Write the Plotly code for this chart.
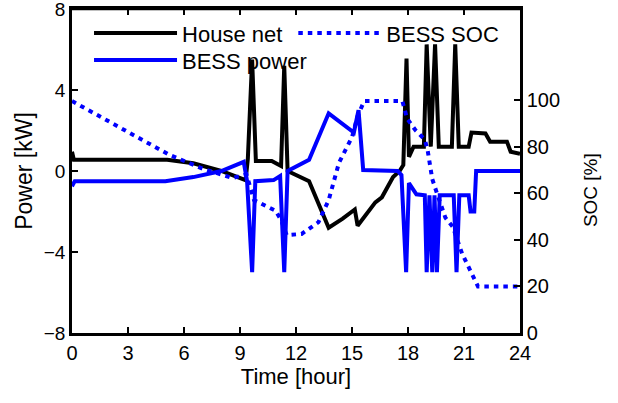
import plotly.graph_objects as go

# ---------------- data ----------------
house_t = [0.0, 0.1, 5.1, 6.5, 8.0, 9.3, 9.42, 9.65, 9.85, 10.7, 11.2, 11.37, 11.55,
           12.7, 13.75, 14.5, 15.15, 15.3, 16.25, 16.6, 17.2, 17.55, 17.75, 17.92,
           18.05, 18.3, 18.85, 19.0, 19.22, 19.45, 19.65, 20.35, 20.53, 20.72,
           21.25, 21.4, 22.15, 22.4, 23.3, 23.5, 24.0]
house_p = [0.95, 0.55, 0.55, 0.38, 0.0, -0.45, 0.6, 5.5, 0.5, 0.5, 0.25, 5.2, 0.0,
           -0.5, -2.8, -2.35, -1.9, -2.7, -1.55, -1.3, -0.3, 0.0, 0.3, 5.55,
           0.7, 1.2, 1.2, 6.25, 1.2, 6.25, 1.2, 1.2, 6.25, 1.2,
           1.2, 1.9, 1.85, 1.45, 1.45, 0.95, 0.85]

bess_t = [0.0, 0.15, 5.0, 6.5, 8.0, 9.2, 9.38, 9.65, 9.82, 10.8, 11.15, 11.37, 11.55,
          12.0, 12.7, 13.75, 15.1, 15.35, 15.6, 17.45, 17.65, 17.9, 18.05, 18.45,
          18.9, 19.0, 19.15, 19.3, 19.42, 19.55, 19.7, 20.45, 20.6, 20.75,
          21.25, 21.35, 21.55, 21.65, 24.0]
bess_p = [-0.75, -0.5, -0.5, -0.3, 0.0, 0.45, -0.5, -5.0, -0.5, -0.45, -0.25, -5.0, 0.0,
          0.2, 0.55, 2.85, 1.9, 3.0, 0.05, 0.0, -0.2, -5.0, -0.6, -1.15,
          -1.2, -5.0, -1.2, -5.0, -1.2, -5.0, -1.2, -1.2, -5.0, -1.2,
          -1.2, -2.0, -2.0, 0.0, 0.0]

soc_t = [0.0, 5.2, 7.0, 8.6, 9.35, 9.5, 9.75, 10.9, 11.2, 11.5, 12.3, 13.2, 13.75,
         14.3, 15.0, 15.3, 15.65, 17.7, 17.95, 18.4, 18.9, 19.05, 19.3, 19.55,
         20.0, 20.4, 20.9, 21.75, 24.0]
soc_v = [99.5, 76.5, 70.5, 66.5, 68.0, 64.0, 57.0, 52.5, 48.5, 42.0, 42.5, 47.5, 57.0,
         73.0, 84.0, 93.0, 99.5, 99.5, 92.0, 87.0, 83.0, 78.5, 66.0, 60.0,
         49.5, 45.5, 34.0, 20.0, 20.0]

x_ticks = [0, 3, 6, 9, 12, 15, 18, 21, 24]
p_ticks = [-8, -4, 0, 4, 8]
soc_ticks = [0, 20, 40, 60, 80, 100]

FONT = "Liberation Sans"
BLUE = "#0000ff"

fig = go.Figure()
fig.add_trace(go.Scatter(x=house_t, y=house_p, mode="lines", name="House net",
                         line=dict(color="black", width=4), legend="legend"))
fig.add_trace(go.Scatter(x=soc_t, y=soc_v, mode="lines", name="BESS SOC", yaxis="y2",
                         line=dict(color=BLUE, width=4, dash="4.5px,5px"), legend="legend2"))
fig.add_trace(go.Scatter(x=bess_t, y=bess_p, mode="lines", name="BESS power",
                         line=dict(color=BLUE, width=4), legend="legend3"))

axis_common = dict(showline=True, linecolor="black", linewidth=2.5, ticks="inside",
                   ticklen=6, tickwidth=2, tickcolor="black", showgrid=False,
                   zeroline=False, automargin=False, ticklabeloverflow="allow")

leg_common = dict(xanchor="left", yanchor="top", bgcolor="rgba(0,0,0,0)",
                  itemwidth=83, font=dict(family=FONT, size=22, color="black"))

# top frame edge with inward ticks at the x tick positions
top_shapes = [dict(type="line", xref="paper", yref="paper", x0=0, x1=1, y0=1, y1=1,
                   line=dict(color="black", width=2.5), layer="above")]
for xt in x_ticks[1:-1]:
    top_shapes.append(dict(type="line", xref="x", yref="paper", x0=xt, x1=xt,
                           y0=1, y1=1 - 6 / 324, line=dict(color="black", width=2),
                           layer="above"))

fig.update_layout(
    width=618, height=403,
    margin=dict(l=72, r=98, t=9, b=70),
    paper_bgcolor="white", plot_bgcolor="white",
    font=dict(family=FONT, size=20, color="black"),
    xaxis=dict(range=[0, 24], tickvals=x_ticks, mirror="ticks",
               tickfont=dict(family=FONT, size=20, color="black"),
               title=dict(text="Time [hour]", font=dict(size=22), standoff=4),
               **axis_common),
    yaxis=dict(range=[-8, 8], tickvals=p_ticks,
               tickfont=dict(family=FONT, size=19, color="black"),
               title=dict(text="Power [kW]", font=dict(size=23), standoff=5),
               **axis_common),
    yaxis2=dict(range=[0, 139], tickvals=soc_ticks, overlaying="y", side="right",
                tickfont=dict(family=FONT, size=20, color="black"),
                **axis_common),
    legend=dict(x=0.038, y=0.99, **leg_common),
    legend3=dict(x=0.038, y=0.907, **leg_common),
    legend2=dict(x=0.494, y=0.99, **leg_common),
    showlegend=True,
    shapes=top_shapes,
    annotations=[dict(text="SOC [%]", xref="paper", yref="paper", x=1.0, y=0.441,
                      xshift=70, yanchor="middle", xanchor="center", textangle=-90,
                      showarrow=False, font=dict(family=FONT, size=19, color="black"))],
)

fig.write_html("out.html", config={"displayModeBar": False},
               post_script="document.body.style.margin='0px';document.body.style.padding='0px';")
